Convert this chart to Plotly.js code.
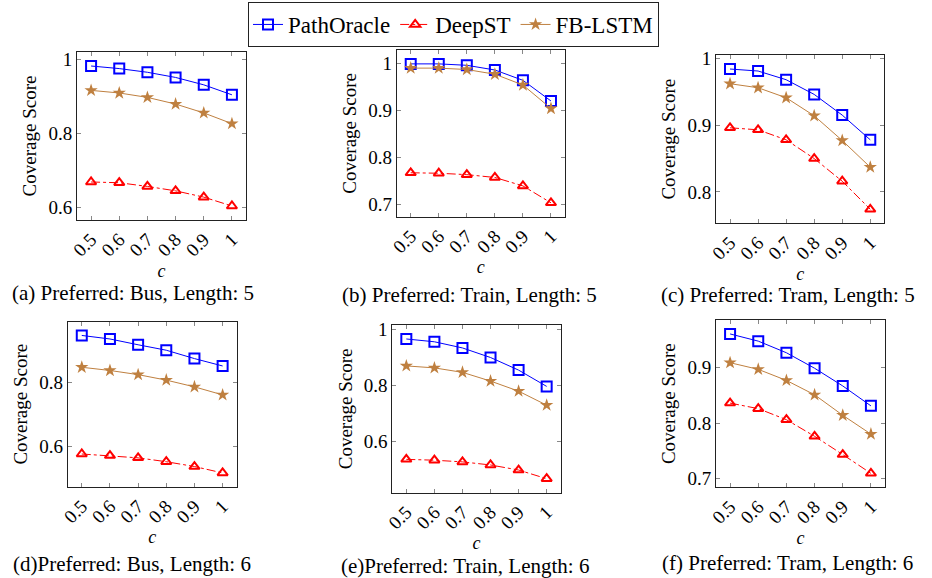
<!DOCTYPE html>
<html>
<head>
<meta charset="utf-8">
<script src="https://cdn.plot.ly/plotly-3.0.1.min.js"></script>
<style>html,body{margin:0;padding:0;background:#fff;}#chart{width:932px;height:578px;}</style>
</head>
<body>
<div id="chart"></div>
<script>
// ---- data ----
const cValues = [0.5, 0.6, 0.7, 0.8, 0.9, 1];
const xTickText = ['0.5', '0.6', '0.7', '0.8', '0.9', '1'];
const seriesNames = ['PathOracle', 'DeepST', 'FB-LSTM'];

// (a) Preferred: Bus, Length: 5
const busL5_PathOracle = [0.982, 0.975, 0.965, 0.951, 0.931, 0.904];
const busL5_DeepST     = [0.668, 0.666, 0.656, 0.644, 0.627, 0.603];
const busL5_FBLSTM     = [0.916, 0.909, 0.897, 0.879, 0.855, 0.826];
// (b) Preferred: Train, Length: 5
const trainL5_PathOracle = [0.999, 0.999, 0.996, 0.986, 0.964, 0.920];
const trainL5_DeepST     = [0.767, 0.766, 0.763, 0.757, 0.739, 0.703];
const trainL5_FBLSTM     = [0.990, 0.990, 0.987, 0.977, 0.954, 0.904];
// (c) Preferred: Tram, Length: 5
const tramL5_PathOracle = [0.984, 0.981, 0.968, 0.946, 0.915, 0.878];
const tramL5_DeepST     = [0.896, 0.893, 0.878, 0.850, 0.816, 0.774];
const tramL5_FBLSTM     = [0.962, 0.956, 0.941, 0.914, 0.877, 0.837];
// (d) Preferred: Bus, Length: 6
const busL6_PathOracle = [0.946, 0.935, 0.917, 0.900, 0.874, 0.851];
const busL6_DeepST     = [0.577, 0.572, 0.565, 0.553, 0.538, 0.518];
const busL6_FBLSTM     = [0.847, 0.837, 0.824, 0.807, 0.786, 0.761];
// (e) Preferred: Train, Length: 6
const trainL6_PathOracle = [0.965, 0.955, 0.933, 0.899, 0.854, 0.796];
const trainL6_DeepST     = [0.536, 0.533, 0.527, 0.516, 0.498, 0.467];
const trainL6_FBLSTM     = [0.869, 0.862, 0.846, 0.815, 0.779, 0.729];
// (f) Preferred: Tram, Length: 6
const tramL6_PathOracle = [0.961, 0.948, 0.927, 0.899, 0.867, 0.831];
const tramL6_DeepST     = [0.836, 0.826, 0.806, 0.776, 0.743, 0.709];
const tramL6_FBLSTM     = [0.909, 0.897, 0.877, 0.851, 0.814, 0.780];

// y ticks per panel
const yTicksA = [0.6, 0.8, 1];   const yTickTextA = ['0.6', '0.8', '1'];
const yTicksB = [0.7, 0.8, 0.9, 1]; const yTickTextB = ['0.7', '0.8', '0.9', '1'];
const yTicksC = [0.8, 0.9, 1];   const yTickTextC = ['0.8', '0.9', '1'];
const yTicksD = [0.6, 0.8];      const yTickTextD = ['0.6', '0.8'];
const yTicksE = [0.6, 0.8, 1];   const yTickTextE = ['0.6', '0.8', '1'];
const yTicksF = [0.7, 0.8, 0.9]; const yTickTextF = ['0.7', '0.8', '0.9'];

const captions = [
  '(a) Preferred: Bus, Length: 5',
  '(b) Preferred: Train, Length: 5',
  '(c) Preferred: Tram, Length: 5',
  '(d)Preferred: Bus, Length: 6',
  '(e)Preferred: Train, Length: 6',
  '(f) Preferred: Tram, Length: 6'
];

const panels = [
  {po: busL5_PathOracle,   ds: busL5_DeepST,   fb: busL5_FBLSTM,   tv: yTicksA, tt: yTickTextA},
  {po: trainL5_PathOracle, ds: trainL5_DeepST, fb: trainL5_FBLSTM, tv: yTicksB, tt: yTickTextB},
  {po: tramL5_PathOracle,  ds: tramL5_DeepST,  fb: tramL5_FBLSTM,  tv: yTicksC, tt: yTickTextC},
  {po: busL6_PathOracle,   ds: busL6_DeepST,   fb: busL6_FBLSTM,   tv: yTicksD, tt: yTickTextD},
  {po: trainL6_PathOracle, ds: trainL6_DeepST, fb: trainL6_FBLSTM, tv: yTicksE, tt: yTickTextE},
  {po: tramL6_PathOracle,  ds: tramL6_DeepST,  fb: tramL6_FBLSTM,  tv: yTicksF, tt: yTickTextF}
];

// ---- layout geometry (pixels) ----
const W = 932, H = 578;
const boxes = [
  {x0: 77,    x1: 246,   y0: 52,    y1: 220},
  {x0: 396.7, x1: 565,   y0: 50,    y1: 216.7},
  {x0: 716,   x1: 884.3, y0: 55,    y1: 223.3},
  {x0: 67.7,  x1: 236.7, y0: 321.7, y1: 486.7},
  {x0: 392.3, x1: 560.7, y0: 325,   y1: 492.7},
  {x0: 716,   x1: 885,   y0: 320,   y1: 487.3}
];
const capPos = [[132.5, 293], [469.5, 295], [787.5, 295], [131.5, 564], [465, 565.5], [787, 563]];

const COL_PO = '#0000ff', COL_DS = '#ff0000', COL_FB = '#bf8040';
const SERIF = 'Liberation Serif';

function enlarge(arrs) {
  let lo = Infinity, hi = -Infinity;
  arrs.forEach(a => a.forEach(v => { lo = Math.min(lo, v); hi = Math.max(hi, v); }));
  const pad = (hi - lo) * 0.1;
  return [lo - pad, hi + pad];
}

const traces = [];
const layout = {
  width: W, height: H,
  margin: {l: 0, r: 0, t: 0, b: 0},
  paper_bgcolor: '#fff', plot_bgcolor: '#fff',
  font: {family: SERIF, size: 19, color: '#000'},
  showlegend: true,
  legend: {
    orientation: 'h', x: 453.5 / W, xanchor: 'center', y: 1 - 2 / H, yanchor: 'top',
    bordercolor: '#222', borderwidth: 1, bgcolor: '#fff',
    font: {family: SERIF, size: 23, color: '#000'},
    itemwidth: 30, tracegroupgap: 0
  },
  annotations: []
};

panels.forEach((p, i) => {
  const n = i + 1;
  const xa = n === 1 ? 'x' : 'x' + n;
  const ya = n === 1 ? 'y' : 'y' + n;
  const b = boxes[i];
  traces.push({
    x: cValues, y: p.po, xaxis: xa, yaxis: ya, name: seriesNames[0], legendgroup: 'po',
    showlegend: i === 0, mode: 'lines+markers', type: 'scatter',
    line: {color: COL_PO, width: 1},
    marker: {symbol: 'square-open', size: 10, color: COL_PO, line: {width: 2, color: COL_PO}}
  });
  traces.push({
    x: cValues, y: p.ds, xaxis: xa, yaxis: ya, name: seriesNames[1], legendgroup: 'ds',
    showlegend: i === 0, mode: 'lines+markers', type: 'scatter',
    line: {color: COL_DS, width: 1, dash: 'dashdot'},
    marker: {symbol: 'triangle-up-open', size: 9, color: COL_DS, line: {width: 2, color: COL_DS}}
  });
  traces.push({
    x: cValues, y: p.fb, xaxis: xa, yaxis: ya, name: seriesNames[2], legendgroup: 'fb',
    showlegend: i === 0, mode: 'lines+markers', type: 'scatter',
    line: {color: COL_FB, width: 1},
    marker: {symbol: 'star', size: 10, color: COL_FB, line: {width: 0}}
  });

  const xKey = n === 1 ? 'xaxis' : 'xaxis' + n;
  const yKey = n === 1 ? 'yaxis' : 'yaxis' + n;
  layout[xKey] = {
    domain: [b.x0 / W, b.x1 / W], anchor: ya,
    range: [0.45, 1.05], tickvals: cValues, ticktext: xTickText, tickangle: -45,
    ticks: 'inside', ticklen: 4, tickcolor: '#888', tickwidth: 1,
    showline: true, linecolor: '#222', linewidth: 1, mirror: 'ticks',
    showgrid: false, zeroline: false, automargin: false,
    tickfont: {family: SERIF, size: 19, color: '#000'},
    title: {text: '<i>c</i>', font: {family: SERIF, size: 18, color: '#000'}, standoff: 0}
  };
  layout[yKey] = {
    domain: [1 - b.y1 / H, 1 - b.y0 / H], anchor: xa,
    range: enlarge([p.po, p.ds, p.fb]), tickvals: p.tv, ticktext: p.tt,
    ticks: 'inside', ticklen: 4, tickcolor: '#888', tickwidth: 1,
    showline: true, linecolor: '#222', linewidth: 1, mirror: 'ticks',
    showgrid: false, zeroline: false, automargin: false,
    tickfont: {family: SERIF, size: 19, color: '#000'},
    title: {text: 'Coverage Score', font: {family: SERIF, size: 19, color: '#000'}, standoff: 6}
  };
  layout.annotations.push({
    text: captions[i], xref: 'paper', yref: 'paper',
    x: capPos[i][0] / W, y: 1 - capPos[i][1] / H, xanchor: 'center', yanchor: 'middle',
    showarrow: false, font: {family: SERIF, size: 21, color: '#000'}
  });
});

Plotly.newPlot('chart', traces, layout, {displayModeBar: false, staticPlot: true});
</script>
</body>
</html>
